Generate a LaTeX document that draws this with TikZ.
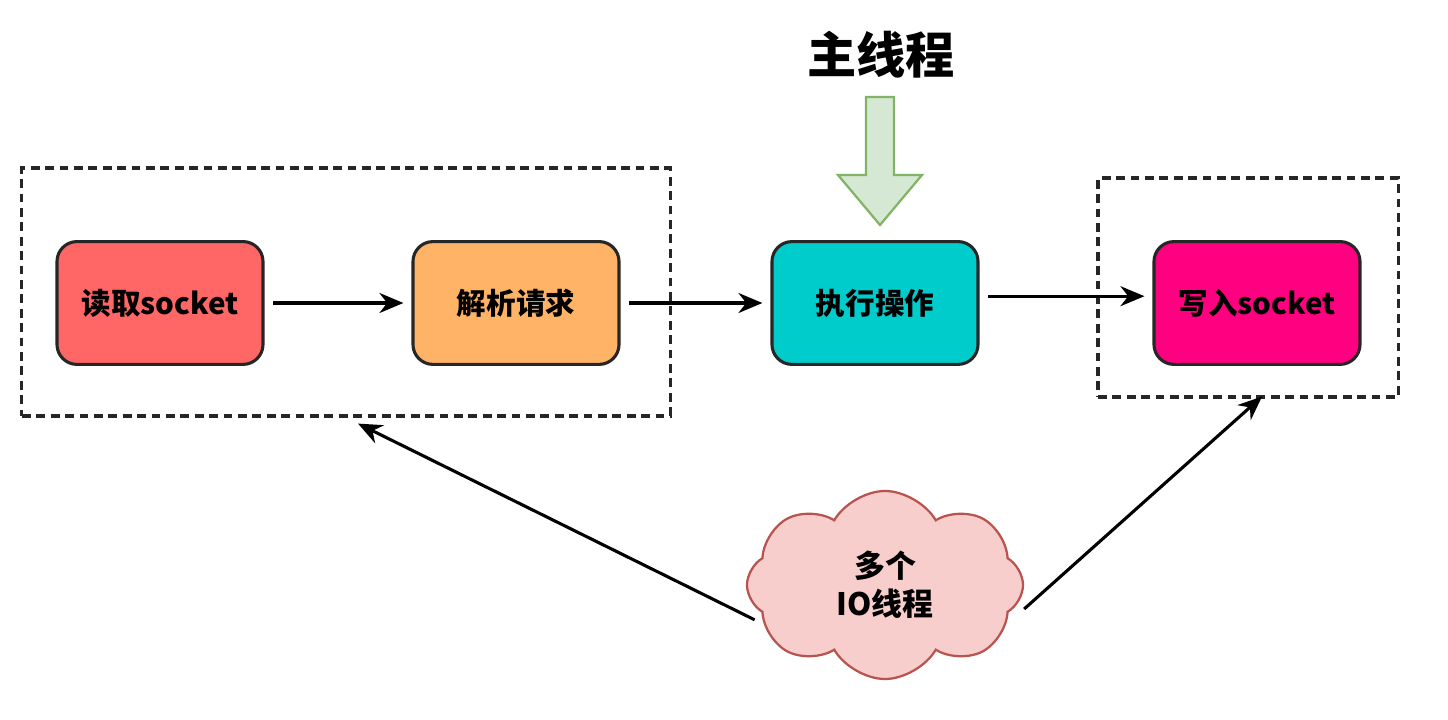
\documentclass[tikz,border=0pt]{standalone}
\usepackage{fontspec}
\setmainfont{Noto Sans CJK SC}
\usetikzlibrary{arrows.meta, shapes.symbols}

\definecolor{readred}{HTML}{FF6666}
\definecolor{parseorange}{HTML}{FFB366}
\definecolor{execcyan}{HTML}{00CCCC}
\definecolor{writepink}{HTML}{FF0080}
\definecolor{mainfill}{HTML}{D5E8D4}
\definecolor{mainline}{HTML}{82B366}
\definecolor{iofill}{HTML}{F8CECC}
\definecolor{ioline}{HTML}{B85450}

\tikzset{
  procbox/.style={draw=black!85, line width=2.2pt, rounded corners=0.5cm,
    minimum width=5.15cm, minimum height=3.07cm, font=\fontsize{21}{25}\selectfont\bfseries},
  group/.style={draw=black!85, line width=2.2pt, dash pattern=on 0.22cm off 0.14cm},
  flow/.style={line width=2.2pt, shorten <=0.22cm, shorten >=0.2cm,
    -{Stealth[length=0.6cm, width=0.5cm]}}
}

\begin{document}
\begin{tikzpicture}[x=0.025cm, y=-0.025cm]
  \useasboundingbox (0,0) rectangle (1448,720);
  % dashed groups
  \node[group, minimum width=16.2cm, minimum height=6.2cm] (readgrp) at (346,292) {};
  \node[group, minimum width=7.5cm, minimum height=5.475cm] (writegrp) at (1248,287.5) {};
  % steps
  \node[procbox, fill=readred] (read) at (160,303) {读取socket};
  \node[procbox, fill=parseorange] (parse) at (516,303) {解析请求};
  \node[procbox, fill=execcyan] (exec) at (875,303) {执行操作};
  \node[procbox, fill=writepink] (write) at (1257,303) {写入socket};
  % main thread
  \node[font=\fontsize{35}{40}\selectfont\bfseries] (main) at (881,55) {主线程};
  \draw[fill=mainfill, draw=mainline, line width=1.6pt]
    (866,97) -- (894,97) -- (894,175) -- (922,175) -- (880,225)
    -- (838,175) -- (866,175) -- cycle;
  % io threads
  \node[cloud, cloud puffs=8, cloud puff arc=120, aspect=1.5, fill=iofill, draw=ioline,
    line width=1.6pt, minimum width=6.9cm, minimum height=4.7cm, align=center,
    font=\fontsize{22}{27}\selectfont\bfseries] (io) at (885,585) {多个\\IO线程};
  % connectors
  \draw[flow] (read) -- (parse);
  \draw[flow] (parse) -- (exec);
  \draw[flow] ([yshift=0.17cm]exec.east) -- ([yshift=0.17cm]write.west);
  \draw[flow, shorten <=0pt, shorten >=0pt] ([xshift=0.22cm, yshift=-0.87cm]io.west)
    -- ([xshift=0.3cm, yshift=-0.15cm]readgrp.south);
  \draw[flow, shorten <=0pt, shorten >=0pt] ([yshift=-0.6cm]io.east)
    -- ([xshift=0.35cm, yshift=0.05cm]writegrp.south);
\end{tikzpicture}
\end{document}
